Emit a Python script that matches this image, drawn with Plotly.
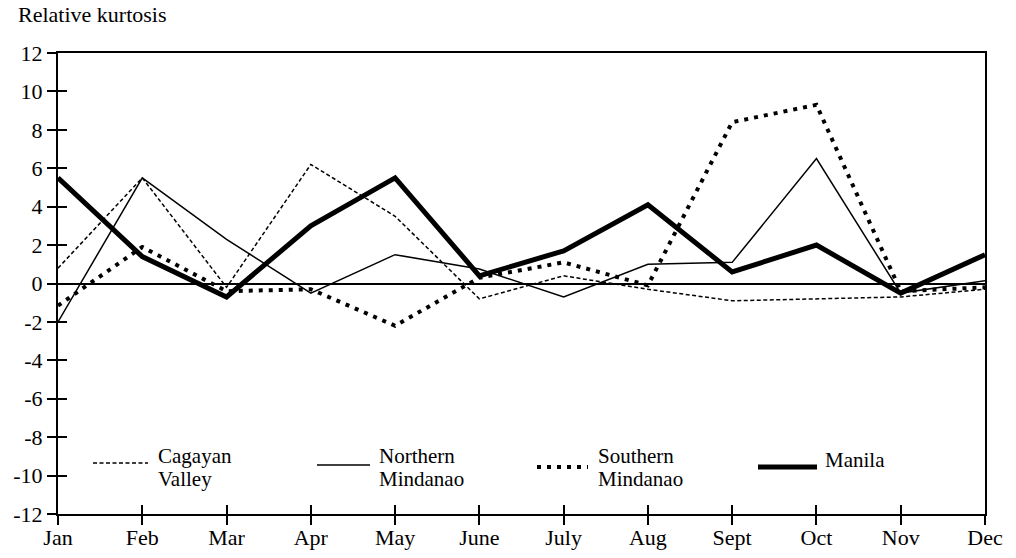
import plotly.graph_objects as go

months = ["Jan", "Feb", "Mar", "Apr", "May", "June", "July", "Aug", "Sept", "Oct", "Nov", "Dec"]
cagayan = [0.8, 5.5, -0.2, 6.2, 3.5, -0.8, 0.4, -0.3, -0.9, -0.8, -0.7, -0.3]
northern = [-2.0, 5.5, 2.3, -0.5, 1.5, 0.75, -0.7, 1.0, 1.1, 6.5, -0.5, 0.15]
southern = [-1.15, 1.9, -0.4, -0.3, -2.2, 0.3, 1.1, -0.1, 8.4, 9.3, -0.4, -0.2]
manila = [5.5, 1.4, -0.7, 3.0, 5.5, 0.4, 1.7, 4.1, 0.6, 2.0, -0.5, 1.5]
yticks = list(range(-12, 13, 2))
ytick_labels = [str(v) for v in yticks]
legend_names = [["Cagayan", "Valley"], ["Northern", "Mindanao"], ["Southern", "Mindanao"], ["Manila"]]

W, H = 1016, 558
L, R, T, B = 58, 985, 53, 514
FONT = "Liberation Serif, Times New Roman, serif"
FS = 22
LFS = 21

def px(x):
    return (x - L) / (R - L)

def py(y):
    return (B - y) / (B - T)

xs = list(range(len(months)))

styles = [
    dict(color="black", width=1.5, dash="4px,2.5px"),
    dict(color="black", width=1.5),
    dict(color="black", width=4, dash="4px,6px"),
    dict(color="black", width=5),
]
series = [cagayan, northern, southern, manila]

fig = go.Figure()
for vals, st, nm in zip(series, styles, legend_names):
    fig.add_trace(go.Scatter(x=xs, y=vals, mode="lines", line=st,
                             name=" ".join(nm), showlegend=False))

# overlay axes to draw the inward half of the crossing tick marks
fig.add_trace(go.Scatter(x=[], y=[], xaxis="x2", yaxis="y2", showlegend=False))

axis_common = dict(showgrid=False, color="black", linecolor="black",
                   tickcolor="black", tickwidth=2, ticklen=9, automargin=False)

fig.update_layout(
    width=W, height=H,
    margin=dict(l=L, r=W - R, t=T, b=H - B),
    paper_bgcolor="white", plot_bgcolor="white",
    font=dict(family=FONT, size=FS, color="black"),
    xaxis=dict(range=[0, 11], tickvals=xs, ticktext=months, ticks="outside",
               showline=True, linewidth=2, mirror=True, zeroline=False,
               ticklabelstandoff=-6,
               tickfont=dict(family=FONT, size=FS), **axis_common),
    yaxis=dict(range=[-12, 12], tickvals=yticks, ticktext=ytick_labels, ticks="outside",
               showline=True, linewidth=2, mirror=True,
               zeroline=True, zerolinecolor="black", zerolinewidth=1.5,
               tickfont=dict(family=FONT, size=FS), **axis_common),
    xaxis2=dict(range=[0, 11], tickvals=xs, ticks="inside", overlaying="x", anchor="y2",
                side="bottom", showticklabels=False, showline=False, zeroline=False,
                **axis_common),
    yaxis2=dict(range=[-12, 12], tickvals=yticks, ticks="inside", overlaying="y", anchor="x2",
                side="left", showticklabels=False, showline=False, zeroline=False,
                **axis_common),
)

# title of the y axis
fig.add_annotation(x=px(16), y=py(15), xref="paper", yref="paper", xanchor="left",
                   yanchor="middle", text="Relative kurtosis", showarrow=False,
                   font=dict(family=FONT, size=FS))

# manual legend
legend_layout = [
    # sample x0, x1, y, text x, text line centres
    (93, 148, 463, 157, [455.5, 478.5]),
    (317, 370, 465, 378, [455.5, 478.5]),
    (537, 588, 467, 597, [455.5, 478.5]),
    (758, 817, 467, 824, [460]),
]
for (x0, x1, yl, tx, tys), st, names in zip(legend_layout, styles, legend_names):
    fig.add_shape(type="line", xref="paper", yref="paper", x0=px(x0), x1=px(x1),
                  y0=py(yl), y1=py(yl), line=st)
    for ty, line_text in zip(tys, names):
        fig.add_annotation(x=px(tx), y=py(ty), xref="paper", yref="paper",
                           xanchor="left", yanchor="middle", text=line_text,
                           showarrow=False, borderpad=0, font=dict(family=FONT, size=LFS))

fig.write_html("out.html")
